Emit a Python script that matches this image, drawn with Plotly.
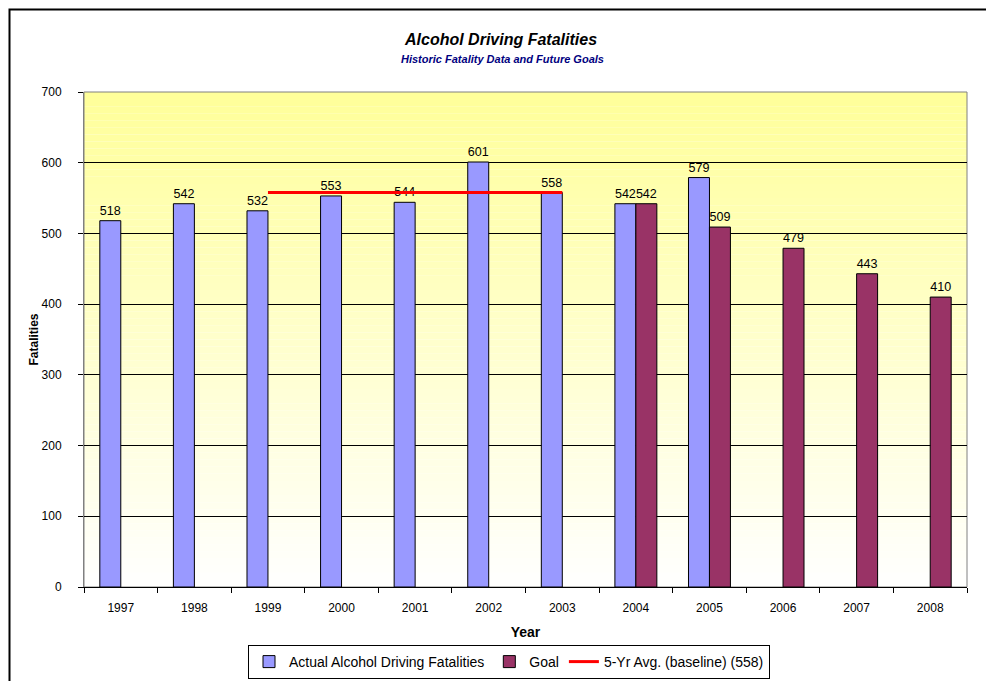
import plotly.graph_objects as go

years = ["1997", "1998", "1999", "2000", "2001", "2002", "2003", "2004", "2005", "2006", "2007", "2008"]
actual = [518, 542, 532, 553, 544, 601, 558, 542, 579, None, None, None]
goal = [None, None, None, None, None, None, None, 542, 509, 479, 443, 410]
avg_years = ["1999", "2000", "2001", "2002", "2003"]
avg_value = 558
avg_vals = [avg_value] * len(avg_years)
y_ticks = [0, 100, 200, 300, 400, 500, 600, 700]

FONT = "Liberation Sans, Arial, sans-serif"

fig = go.Figure()
fig.add_trace(go.Bar(
    x=years, y=actual, name="Actual Alcohol Driving Fatalities",
    marker=dict(color="#9999FF", line=dict(color="#000000", width=1)),
    text=[str(v) if v is not None else "" for v in actual],
    textposition="outside", textfont=dict(size=13, color="#000000", family=FONT),
    cliponaxis=False,
))
fig.add_trace(go.Bar(
    x=years, y=goal, name="Goal",
    marker=dict(color="#993366", line=dict(color="#000000", width=1)),
    text=[str(v) if v is not None else "" for v in goal],
    textposition="outside", textfont=dict(size=13, color="#000000", family=FONT),
    cliponaxis=False,
))
fig.add_trace(go.Scatter(
    x=avg_years, y=avg_vals, name="5-Yr Avg. (baseline) (558)",
    mode="lines", line=dict(color="#FF0000", width=3),
))

# gradient background: yellow at top fading to white at bottom
shapes = []
n = 70
top_c = (255, 255, 153)
for i in range(n):
    y0 = 700 * i / n
    y1 = 700 * (i + 1) / n
    t = (i + 0.5) / n
    b = round(255 + (top_c[2] - 255) * t)
    shapes.append(dict(type="rect", xref="paper", yref="y", x0=0, x1=1, y0=y0, y1=y1,
                       fillcolor=f"rgb(255,255,{b})", line=dict(width=0), layer="below"))
# outer chart frame
shapes.append(dict(type="rect", xref="paper", yref="paper",
                   x0=(9.5 - 84) / 883, x1=(991 - 84) / 883,
                   y0=(587 - 720) / 495, y1=(587 - 9.5) / 495,
                   line=dict(color="#000000", width=2), fillcolor="rgba(0,0,0,0)", layer="above"))

annotations = [
    dict(text="<b><i>Alcohol Driving Fatalities</i></b>", xref="paper", yref="paper",
         x=(500 - 84) / 883, y=(587 - 40) / 495, showarrow=False,
         font=dict(size=16, color="#000000", family=FONT), xanchor="center", yanchor="middle"),
    dict(text="<b><i>Historic Fatality Data and Future Goals</i></b>", xref="paper", yref="paper",
         x=(502 - 84) / 883, y=(587 - 59) / 495, showarrow=False,
         font=dict(size=11, color="#000080", family=FONT), xanchor="center", yanchor="middle"),
]

fig.update_layout(
    width=994, height=681,
    margin=dict(l=76, r=35, t=84, b=102, autoexpand=False),
    paper_bgcolor="#FFFFFF",
    plot_bgcolor="rgba(0,0,0,0)",
    barmode="group", bargap=0.43, bargroupgap=0,
    font=dict(family=FONT, size=12, color="#000000"),
    shapes=shapes,
    annotations=annotations,
    showlegend=True,
    legend=dict(orientation="h", x=(509 - 84) / 883, xanchor="center",
                y=(587 - 645) / 495, yanchor="top",
                bordercolor="#000000", borderwidth=1, bgcolor="#FFFFFF",
                font=dict(size=14, family=FONT), traceorder="normal",
                itemwidth=30, tracegroupgap=0),
    xaxis=dict(type="category", categoryorder="array", categoryarray=years,
               showline=True, linecolor="#000000", linewidth=1, mirror=False,
               ticks="outside", ticklen=5, tickcolor="#000000", tickson="boundaries",
               showgrid=False, tickfont=dict(size=12), ticklabelstandoff=10, automargin=False,
               title=dict(text="<b>Year</b>", font=dict(size=14), standoff=12)),
    yaxis=dict(range=[0, 700], tickvals=y_ticks, showline=True, linecolor="#808080", linewidth=1,
               ticks="outside", ticklen=5, tickcolor="#000000", automargin=False,
               showgrid=True, gridcolor="#000000", gridwidth=1, zeroline=False,
               tickfont=dict(size=12), ticklabelstandoff=14,
               title=dict(text="<b>Fatalities</b>", font=dict(size=12), standoff=0)),
)
# plot-area border on right and top
fig.add_shape(type="rect", xref="paper", yref="paper", x0=0, x1=1, y0=0, y1=1,
              line=dict(color="#808080", width=1), fillcolor="rgba(0,0,0,0)", layer="below")

fig.write_html("out.html")
